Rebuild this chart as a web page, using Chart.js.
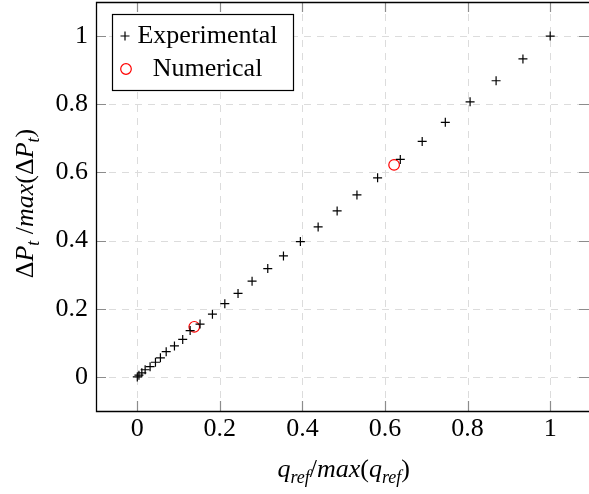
<!DOCTYPE html>
<html>
<head>
<meta charset="utf-8">
<script src="https://cdn.jsdelivr.net/npm/chart.js@4"></script>
<style>
  html, body { margin: 0; padding: 0; background: #fff; overflow: hidden; }
  canvas { display: block; }
</style>
</head>
<body>
<canvas id="pressureChart" width="589" height="494"></canvas>
<script>
// normalised flow rate vs normalised pressure drop
const expX = [0.000, 0.004, 0.011, 0.019, 0.031, 0.044, 0.056, 0.070, 0.090, 0.110,
              0.128, 0.152, 0.182, 0.212, 0.244, 0.278, 0.316, 0.354, 0.395, 0.438,
              0.484, 0.532, 0.582, 0.637, 0.690, 0.746, 0.806, 0.869, 0.934, 1.000];
const expY = [0.000, 0.005, 0.012, 0.021, 0.030, 0.043, 0.056, 0.074, 0.091, 0.110,
              0.136, 0.155, 0.184, 0.215, 0.245, 0.281, 0.318, 0.355, 0.397, 0.440,
              0.487, 0.534, 0.584, 0.638, 0.691, 0.747, 0.807, 0.869, 0.933, 1.000];
const numX = [0.138, 0.622];
const numY = [0.147, 0.622];
const xTicks = [0, 0.2, 0.4, 0.6, 0.8, 1];
const yTicks = [0, 0.2, 0.4, 0.6, 0.8, 1];

const serif = "'Liberation Serif', 'DejaVu Serif', serif";
const FS = 26;

const toPoints = (xs, ys) => xs.map((x, i) => ({ x: x, y: ys[i] }));

// draw a run of text pieces, some italic, some subscripted
function richWidth(ctx, parts) {
  let w = 0;
  parts.forEach(p => {
    ctx.font = (p.it ? "italic " : "") + (p.sub ? 18 : FS) + "px " + serif;
    w += ctx.measureText(p.t).width;
  });
  return w;
}
function drawRich(ctx, parts, x, y) {
  let cx = x;
  parts.forEach(p => {
    ctx.font = (p.it ? "italic " : "") + (p.sub ? 18 : FS) + "px " + serif;
    ctx.fillText(p.t, cx, p.sub ? y + 6 : y);
    cx += ctx.measureText(p.t).width;
  });
}

const xTitle = [
  { t: "q", it: true }, { t: "ref", it: true, sub: true }, { t: "/" },
  { t: "max", it: true }, { t: "(" }, { t: "q", it: true },
  { t: "ref", it: true, sub: true }, { t: ")" }
];
const yTitle = [
  { t: "Δ" }, { t: "P", it: true }, { t: "t", it: true, sub: true }, { t: " /" },
  { t: "max", it: true }, { t: "(Δ" }, { t: "P", it: true },
  { t: "t", it: true, sub: true }, { t: ")" }
];

const framePlugin = {
  id: "frame",
  beforeDatasetsDraw(chart) {
    const { ctx, chartArea: a, scales } = chart;
    ctx.save();
    ctx.strokeStyle = "#dcdcdc";
    ctx.lineWidth = 1;
    ctx.setLineDash([7, 6]);
    xTicks.forEach(v => {
      const px = Math.round(scales.x.getPixelForValue(v)) + 0.5;
      ctx.beginPath(); ctx.moveTo(px, a.bottom); ctx.lineTo(px, a.top); ctx.stroke();
    });
    yTicks.forEach(v => {
      const py = Math.round(scales.y.getPixelForValue(v)) + 0.5;
      ctx.beginPath(); ctx.moveTo(a.left, py); ctx.lineTo(a.right, py); ctx.stroke();
    });
    ctx.setLineDash([]);
    // inward tick marks on every side
    ctx.strokeStyle = "#8c8c8c";
    ctx.lineWidth = 1.2;
    const tl = 10;
    xTicks.forEach(v => {
      const px = Math.round(scales.x.getPixelForValue(v)) + 0.5;
      ctx.beginPath();
      ctx.moveTo(px, a.bottom); ctx.lineTo(px, a.bottom - tl);
      ctx.moveTo(px, a.top); ctx.lineTo(px, a.top + tl);
      ctx.stroke();
    });
    yTicks.forEach(v => {
      const py = Math.round(scales.y.getPixelForValue(v)) + 0.5;
      ctx.beginPath();
      ctx.moveTo(a.left, py); ctx.lineTo(a.left + tl, py);
      ctx.moveTo(a.right, py); ctx.lineTo(a.right - tl, py);
      ctx.stroke();
    });
    // box: the right edge sits just beyond the page, so only three sides
    ctx.strokeStyle = "#000";
    ctx.lineWidth = 1.3;
    ctx.beginPath();
    ctx.moveTo(a.right, a.top + 0.5);
    ctx.lineTo(a.left + 0.5, a.top + 0.5);
    ctx.lineTo(a.left + 0.5, a.bottom + 0.5);
    ctx.lineTo(a.right, a.bottom + 0.5);
    ctx.stroke();
    ctx.restore();
  },
  afterDatasetsDraw(chart) {
    const { ctx, chartArea: a } = chart;
    ctx.save();
    ctx.fillStyle = "#000";
    ctx.textBaseline = "alphabetic";

    // axis titles, centred on the full plot box (x range -0.1 .. 1.1)
    const cx = chart.scales.x.getPixelForValue(0.5);
    drawRich(ctx, xTitle, cx - richWidth(ctx, xTitle) / 2, 477);
    ctx.save();
    ctx.translate(33, (a.top + a.bottom) / 2 - 3);
    ctx.rotate(-Math.PI / 2);
    drawRich(ctx, yTitle, -richWidth(ctx, yTitle) / 2, 0);
    ctx.restore();

    // legend box
    const lx = 112.5, ly = 14.5, lw = 181, lh = 76;
    ctx.fillStyle = "#fff";
    ctx.fillRect(lx, ly, lw, lh);
    ctx.strokeStyle = "#000";
    ctx.lineWidth = 1.2;
    ctx.strokeRect(lx, ly, lw, lh);

    const ds = chart.data.datasets;
    const colCenter = 207.5;
    ctx.fillStyle = "#000";
    ctx.font = FS + "px " + serif;
    ctx.textAlign = "center";
    ctx.fillText(ds[0].label, colCenter, 43);
    ctx.fillText(ds[1].label, colCenter, 76);

    // legend markers
    ctx.strokeStyle = ds[0].borderColor;
    ctx.lineWidth = ds[0].borderWidth;
    const r0 = ds[0].pointRadius;
    ctx.beginPath();
    ctx.moveTo(125 - r0, 36); ctx.lineTo(125 + r0, 36);
    ctx.moveTo(125, 36 - r0); ctx.lineTo(125, 36 + r0);
    ctx.stroke();
    ctx.strokeStyle = ds[1].borderColor;
    ctx.lineWidth = ds[1].borderWidth;
    ctx.beginPath();
    ctx.arc(126, 69, ds[1].pointRadius, 0, Math.PI * 2);
    ctx.stroke();
    ctx.restore();
  }
};

// fixed axis sizes, no extra room reserved for edge labels
function fitX(s) {
  s.height = 83;
  s.paddingLeft = 0; s.paddingRight = 0;
}
function fitY(s) {
  s.width = 96;
  s.paddingTop = 0; s.paddingBottom = 0;
}

const ctx = document.getElementById("pressureChart").getContext("2d");
const pressureChart = new Chart(ctx, {
  type: "scatter",
  data: {
    datasets: [
      {
        label: "Experimental",
        data: toPoints(expX, expY),
        pointStyle: "cross",
        pointRadius: 4.5,
        pointHoverRadius: 4.5,
        borderColor: "#000",
        backgroundColor: "#000",
        borderWidth: 1.2,
      },
      {
        label: "Numerical",
        data: toPoints(numX, numY),
        pointStyle: "circle",
        pointRadius: 5.3,
        pointHoverRadius: 5.3,
        borderColor: "#ff0000",
        backgroundColor: "rgba(0,0,0,0)",
        borderWidth: 1.2,
      },
    ],
  },
  options: {
    responsive: false,
    animation: false,
    devicePixelRatio: 1,
    layout: { autoPadding: false, padding: { top: 2, right: 0, bottom: 0, left: 0 } },
    plugins: {
      legend: { display: false },
      tooltip: { enabled: false },
    },
    scales: {
      x: {
        type: "linear",
        min: -0.1,
        max: 1.094, // right edge of the box runs just past the page
        afterBuildTicks: s => { s.ticks = xTicks.map(v => ({ value: v })); },
        afterFit: fitX,
        grid: { display: false, drawTicks: false },
        border: { display: false },
        ticks: {
          color: "#000",
          padding: 3,
          font: { family: serif, size: FS },
          callback: v => String(v),
        },
      },
      y: {
        type: "linear",
        min: -0.1,
        max: 1.1,
        afterBuildTicks: s => { s.ticks = yTicks.map(v => ({ value: v })); },
        afterFit: fitY,
        grid: { display: false, drawTicks: false },
        border: { display: false },
        ticks: {
          color: "#000",
          padding: 8,
          font: { family: serif, size: FS },
          callback: v => String(v),
        },
      },
    },
  },
  plugins: [framePlugin],
});
</script>
</body>
</html>
